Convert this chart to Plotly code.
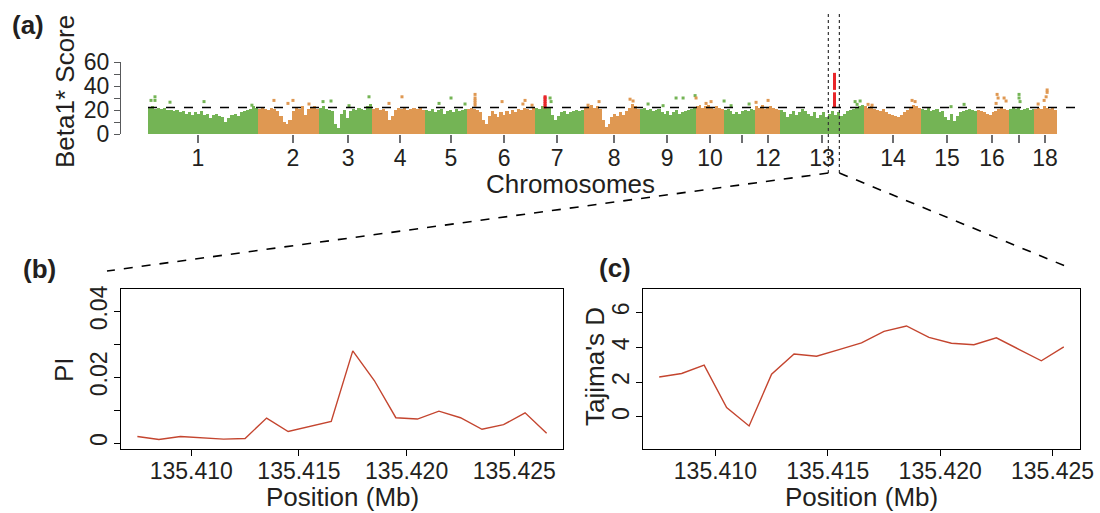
import plotly.graph_objects as go

W, H = 1100, 513
FONT = "Liberation Sans, Arial, sans-serif"

# ---------------- Panel (a) data ----------------
chrom_len_mb = [274.3, 151.9, 132.8, 130.9, 104.5, 170.8, 121.8, 138.9, 139.5,
                69.4, 79.2, 61.6, 208.3, 141.8, 140.4, 79.9, 63.5, 56.0]
tick_pos_mb = [124.6, 87.0, 72.3, 69.1, 65.3, 92.9, 54.2, 74.5, 67.7,
               35.4, 45.8, 31.4, 104.4, 73.0, 65.8, 37.6, 25.0, 26.3]
tick_text = ['1', '2', '3', '4', '5', '6', '7', '8', '9', '10', '', '12',
             '13', '14', '15', '16', '', '18']

chr01 = [22, 23, 21, 22, 21, 22, 20, 20, 19, 20, 18, 19, 17, 18, 16, 18, 17, 19,
         16, 17, 13, 16, 17, 15, 14, 10, 13, 16, 17, 15, 18, 19, 20, 21, 23, 22]
chr02 = [21, 22, 21, 20, 22, 21, 19, 15, 10, 8, 12, 19, 22, 21, 23, 16, 21, 22, 23, 21]
chr03 = [22, 23, 21, 20, 19, 8, 5, 17, 20, 13, 19, 21, 20, 22, 21, 20, 23, 25]
chr04 = [21, 22, 20, 21, 19, 12, 15, 20, 22, 21, 22, 20, 21, 22, 21, 22, 20]
chr05 = [20, 19, 21, 18, 20, 21, 17, 19, 20, 18, 21, 19, 20, 21]
chr06 = [21, 22, 21, 20, 18, 12, 8, 15, 19, 17, 14, 18, 16, 19, 17, 20, 18, 21,
         20, 22, 21, 20, 22]
chr07 = [22, 21, 23, 22, 22, 16, 12, 15, 18, 19, 17, 18, 19, 20, 19, 20]
chr08 = [22, 23, 24, 22, 23, 21, 12, 6, 8, 14, 17, 15, 18, 16, 19, 22, 25, 23, 21]
chr09 = [21, 22, 20, 21, 19, 20, 21, 18, 17, 19, 16, 18, 20, 17, 18, 19, 20, 21, 22]
chr10 = [23, 24, 22, 23, 24, 22, 21, 23, 22, 21]
chr11 = [20, 21, 19, 17, 18, 17, 19, 20, 19, 21, 20]
chr12 = [23, 22, 24, 21, 22, 23, 22, 21, 20]
chr13 = [20, 18, 14, 17, 19, 16, 18, 21, 19, 17, 15, 18, 13, 16, 18, 14, 17, 19,
         16, 18, 15, 17, 19, 20, 21, 22, 23, 24]
chr14 = [23, 22, 23, 21, 20, 19, 21, 18, 17, 16, 15, 14, 16, 18, 20, 22, 24, 23, 22]
chr15 = [21, 20, 22, 19, 20, 21, 18, 19, 14, 12, 17, 11, 15, 18, 19, 20, 21, 20, 19]
chr16 = [20, 19, 18, 17, 16, 18, 19, 21, 22, 21, 20]
chr17 = [21, 22, 21, 22, 20, 21, 22, 20, 21]
chr18 = [21, 22, 21, 23, 22, 21, 22, 20]
profiles = [chr01, chr02, chr03, chr04, chr05, chr06, chr07, chr08, chr09,
            chr10, chr11, chr12, chr13, chr14, chr15, chr16, chr17, chr18]

# isolated high points (chromosome index 1-based, position within chromosome in Mb, score)
out_chrom = [1, 1, 1, 1, 1, 1,
             2, 2, 2, 2,
             3, 3, 3, 3,
             4, 4,
             5, 5, 5,
             6, 6, 6, 6, 6, 6, 6, 6, 6,
             7, 7,
             8, 8, 8, 8,
             9, 9, 9, 9, 9,
             10, 10, 10,
             11, 11, 11,
             12, 12,
             13, 13, 13,
             14, 14, 14, 14,
             15, 15,
             16, 16, 16, 16, 16,
             17, 17, 17,
             18, 18, 18, 18, 18]
out_pos = [7.5, 17.4, 17.4, 54.8, 139.6, 259.0,
           39.6, 74.5, 87.0, 126.9,
           10.0, 29.9, 74.8, 124.6,
           41.6, 74.0,
           35.4, 65.3, 100.2,
           20.7, 20.7, 20.7, 20.7, 20.7, 88.0, 145.3, 162.8, 140.0,
           36.9, 39.4,
           9.7, 37.1, 114.4, 121.9,
           20.4, 57.8, 90.2, 107.7, 137.6,
           0.5, 25.4, 37.9,
           1.0, 18.4, 63.3,
           1.5, 31.4,
           186.7, 191.7, 199.2,
           10.7, 20.7, 120.4, 127.9,
           75.8, 108.2,
           47.6, 50.1, 52.6, 67.5, 72.5,
           24.9, 24.9, 27.4,
           9.0, 23.9, 28.9, 31.4, 31.4]
out_score = [28, 31, 28, 26.5, 27, 24,
             28, 25.5, 28, 25,
             27, 27.5, 23.6, 31,
             25.5, 31,
             25.5, 30, 25,
             24, 26, 28, 30, 33, 27, 28, 24, 25,
             30, 27,
             24, 27, 29, 27.5,
             25, 23.6, 30, 30, 32,
             30, 25.5, 27,
             27.5, 23.6, 25,
             26.4, 28,
             27, 24.7, 27.5,
             24.7, 24, 28, 27,
             22.8, 24.7,
             25.5, 33, 30, 30, 27.5,
             33, 30, 27,
             25, 28, 31, 34.7, 36.7]

# highlighted (red) windows
red_chrom = [7, 13]
red_pos_mb = [24.4, 135.41]
red7_scores = [22.5, 24, 25.5, 27, 28.5, 30, 31]
red13_scores = [23, 24.5, 26, 27.5, 29, 30.5, 32, 33.5, 38, 39.5, 41, 42.5,
                44, 45.5, 47, 48.5, 49.7]
threshold = 22.1
zoom_window_mb = [120.0, 147.5]   # on chromosome 13

# ---------------- Panels (b) and (c) data ----------------
pi_pos = [135.4075, 135.4085, 135.4095, 135.4105, 135.4115, 135.4125, 135.4135,
          135.4145, 135.4155, 135.4165, 135.4175, 135.4185, 135.4195, 135.4205,
          135.4215, 135.4225, 135.4235, 135.4245, 135.4255, 135.4265]
pi_vals = [0.0020, 0.0011, 0.0020, 0.0015, 0.0012, 0.0014, 0.0076, 0.0035,
           0.0050, 0.0066, 0.0280, 0.0190, 0.0077, 0.0073, 0.0097, 0.0077,
           0.0042, 0.0056, 0.0092, 0.0030]
taj_pos = [135.4075, 135.4085, 135.4095, 135.4105, 135.4115, 135.4125, 135.4135,
           135.4145, 135.4155, 135.4165, 135.4175, 135.4185, 135.4195, 135.4205,
           135.4215, 135.4225, 135.4235, 135.4245, 135.4255]
taj_vals = [2.29, 2.49, 2.97, 0.54, -0.52, 2.45, 3.61, 3.48, 3.86, 4.25, 4.91,
            5.22, 4.56, 4.23, 4.14, 4.54, 3.88, 3.22, 4.02]

GREEN = "#74B455"
ORANGE = "#DF9852"
RED = "#E8262A"
LINE = "#C4452F"

# ---------------- build panel (a) ----------------
offsets = []
acc = 0.0
for L in chrom_len_mb:
    offsets.append(acc)
    acc += L
total = acc
col = [GREEN if i % 2 == 0 else ORANGE for i in range(18)]

bx, by, bw, bc = [], [], [], []
for i, vals in enumerate(profiles):
    n = len(vals)
    w = chrom_len_mb[i] / n
    for j, v in enumerate(vals):
        bx.append(offsets[i] + (j + 0.5) * w)
        by.append(v)
        bw.append(w * 1.04)
        bc.append(col[i])

fig = go.Figure()
fig.add_trace(go.Bar(x=bx, y=by, width=bw, marker=dict(color=bc, line=dict(width=0)),
                     xaxis="x", yaxis="y", showlegend=False, hoverinfo="skip"))

ox = [offsets[c - 1] + p for c, p in zip(out_chrom, out_pos)]
oc = [col[c - 1] for c in out_chrom]
fig.add_trace(go.Scatter(x=ox, y=out_score, mode="markers",
                         marker=dict(symbol="square", size=3, color=oc, line=dict(width=0)),
                         xaxis="x", yaxis="y", showlegend=False, hoverinfo="skip"))

rx, ry = [], []
for c, p, sc in zip(red_chrom, red_pos_mb, [red7_scores, red13_scores]):
    for s in sc:
        rx.append(offsets[c - 1] + p)
        ry.append(s)
fig.add_trace(go.Scatter(x=rx, y=ry, mode="markers",
                         marker=dict(symbol="square", size=3, color=RED, line=dict(width=0)),
                         xaxis="x", yaxis="y", showlegend=False, hoverinfo="skip"))

# ---------------- panels (b),(c) ----------------
fig.add_trace(go.Scatter(x=pi_pos, y=pi_vals, mode="lines", line=dict(color=LINE, width=1.4),
                         xaxis="x2", yaxis="y2", showlegend=False))
fig.add_trace(go.Scatter(x=taj_pos, y=taj_vals, mode="lines", line=dict(color=LINE, width=1.4),
                         xaxis="x3", yaxis="y3", showlegend=False))

# ---------------- layout ----------------
gen_px0, gen_px1 = 148, 1057
ax_px0, ax_px1 = 121, 1083
mb_per_px = total / (gen_px1 - gen_px0)
xa_range = [-(gen_px0 - ax_px0) * mb_per_px, total + (ax_px1 - gen_px1) * mb_per_px]
xa_dom = [ax_px0 / W, ax_px1 / W]


def xa_paper(mb):
    return xa_dom[0] + (mb - xa_range[0]) / (xa_range[1] - xa_range[0]) * (xa_dom[1] - xa_dom[0])


def py(p):
    return 1 - p / H


def pi_range(lo, hi):
    s = hi - lo
    return [lo - 0.04 * s, hi + 0.04 * s]


tickfont = dict(family=FONT, size=23, color="#231F20")
box_axis = dict(showline=True, linecolor="black", linewidth=1.2, mirror=True,
                ticks="outside", ticklen=6, tickwidth=1, tickcolor="black",
                showgrid=False, zeroline=False, tickfont=tickfont)

fig.update_layout(
    width=W, height=H, margin=dict(l=0, r=0, t=0, b=0, autoexpand=False),
    paper_bgcolor="white", plot_bgcolor="white", bargap=0,
    font=dict(family=FONT, color="#231F20"),
    xaxis=dict(domain=xa_dom, range=xa_range, anchor="y",
               tickvals=[o + t for o, t in zip(offsets, tick_pos_mb)], ticktext=tick_text,
               ticks="outside", ticklen=8, tickwidth=1.5, tickcolor="#6D6E71",
               showline=False, showgrid=False, zeroline=False, tickfont=tickfont,
               ticklabelstandoff=-5),
    yaxis=dict(domain=[py(134), py(62)], range=[0, 60], anchor="x",
               tickvals=[0, 10, 20, 30, 40, 50, 60],
               ticktext=['0', '', '20', '', '40', '', '60'],
               ticks="outside", ticklen=6, tickwidth=1, tickcolor="#58595B",
               showline=True, linecolor="#58595B", linewidth=1,
               showgrid=False, zeroline=False,
               tickfont=dict(family=FONT, size=23, color="#231F20")),
    xaxis2=dict(domain=[121 / W, 563 / W], range=pi_range(135.4075, 135.4265), anchor="y2",
                tickvals=[135.410, 135.415, 135.420, 135.425],
                ticktext=['135.410', '135.415', '135.420', '135.425'],
                ticklabelstandoff=-5, **box_axis),
    yaxis2=dict(domain=[py(449), py(289)], range=pi_range(0, 0.045), anchor="x2",
                tickvals=[0, 0.01, 0.02, 0.03, 0.04], ticktext=['0', '', '0.02', '', '0.04'],
                tickangle=-90, ticklabelstandoff=-2, **box_axis),
    xaxis3=dict(domain=[643 / W, 1080 / W], range=pi_range(135.4075, 135.4255), anchor="y3",
                tickvals=[135.410, 135.415, 135.420, 135.425],
                ticktext=['135.410', '135.415', '135.420', '135.425'],
                ticklabelstandoff=-5, **box_axis),
    yaxis3=dict(domain=[py(449), py(289)], range=pi_range(-1.5, 7), anchor="x3",
                tickvals=[0, 2, 4, 6], ticktext=['0', '2', '4', '6'],
                tickangle=-90, ticklabelstandoff=-2, **box_axis),
)

shapes = [
    dict(type="line", xref="x", yref="y", x0=0, x1=xa_range[1], y0=threshold, y1=threshold,
         line=dict(color="black", width=1.3, dash="dash")),
]
zx0 = offsets[12] + zoom_window_mb[0]
zx1 = offsets[12] + zoom_window_mb[1]
for zx in (zx0, zx1):
    shapes.append(dict(type="line", xref="x", yref="paper", x0=zx, x1=zx, y0=py(173), y1=py(12),
                       line=dict(color="#333333", width=1.2, dash="dot")))
shapes.append(dict(type="line", xref="paper", yref="paper", x0=xa_paper(zx0), y0=py(173),
                   x1=107 / W, y1=py(271), line=dict(color="black", width=1.6, dash="dash")))
shapes.append(dict(type="line", xref="paper", yref="paper", x0=xa_paper(zx1), y0=py(173),
                   x1=1070 / W, y1=py(268), line=dict(color="black", width=1.6, dash="dash")))
fig.update_layout(shapes=shapes)

title_font = dict(family=FONT, size=26, color="#231F20")
panel_font = dict(family=FONT, size=26, color="#231F20")
ann = [
    dict(text="<b>(a)</b>", x=28 / W, y=py(25), font=panel_font),
    dict(text="<b>(b)</b>", x=39 / W, y=py(269), font=panel_font),
    dict(text="<b>(c)</b>", x=615 / W, y=py(268), font=panel_font),
    dict(text="Beta1* Score", x=65 / W, y=py(92), font=title_font, textangle=-90),
    dict(text="Chromosomes", x=570 / W, y=py(184), font=title_font),
    dict(text="PI", x=64 / W, y=py(370), font=title_font, textangle=-90),
    dict(text="Tajima's D", x=595 / W, y=py(367), font=title_font, textangle=-90),
    dict(text="Position (Mb)", x=342 / W, y=py(497), font=title_font),
    dict(text="Position (Mb)", x=861 / W, y=py(497), font=title_font),
]
for a in ann:
    a.update(xref="paper", yref="paper", showarrow=False, xanchor="center", yanchor="middle")
fig.update_layout(annotations=ann)

post = ("var gd=document.getElementById('{plot_id}');"
        "gd.style.position='fixed';gd.style.left='0px';gd.style.top='0px';"
        "document.body.style.margin='0px';document.body.style.overflow='hidden';"
        "document.documentElement.style.overflow='hidden';")
fig.write_html("out.html", config={"displayModeBar": False}, post_script=post)
